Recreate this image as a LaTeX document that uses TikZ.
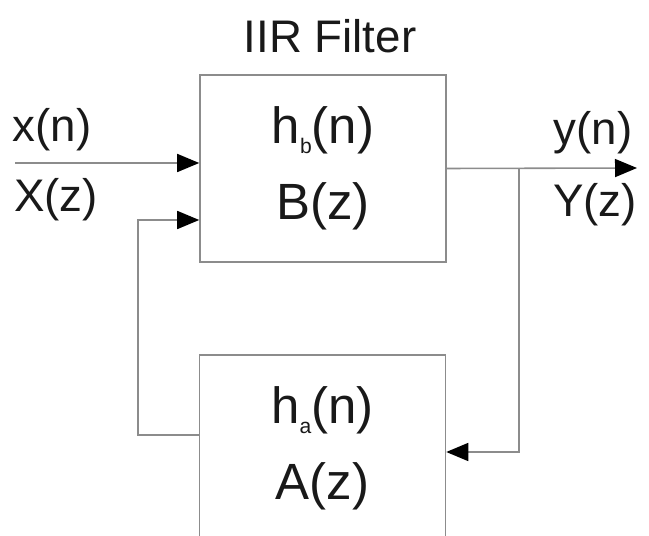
\documentclass[tikz,border=0pt]{standalone}
\usepackage{fontspec}
\setmainfont{Liberation Sans}
\usetikzlibrary{arrows.meta}
\newcommand{\lowsub}[1]{\raisebox{-5.5pt}{\fontsize{12}{12}\selectfont #1}}
\tikzset{
  filt/.style={draw=gray!90, line width=0.9pt, minimum width=4.92cm, minimum height=3.74cm,
    align=center, font=\fontsize{29}{43}\selectfont, text=black!90},
  sig/.style={draw=gray!90, line width=0.9pt},
  sigarr/.style={sig, -{Triangle[length=0.44cm,width=0.36cm,black]}},
  lbl/.style={font=\fontsize{26}{31}\selectfont, text=black!90}
}
\begin{document}
\begin{tikzpicture}[x=0.02cm,y=-0.02cm]
\clip (0,0) rectangle (649,536);
\useasboundingbox (0,0) rectangle (649,536);
\node[filt] (filtB) at (323,168.5) {h\lowsub{b}(n)\\B(z)};
\node[filt] (filtA) at (322.5,448.5) {h\lowsub{a}(n)\\A(z)};
\node[lbl] (title) at (330,36) {IIR Filter};
% input
\coordinate (in) at (15,163);
\draw[sigarr] (in) -- (in -| filtB.west);
\node[lbl] (xn) at (52,130) {x(n)};
\node[lbl] (Xz) at (56,200) {X(z)};
% output and branch
\coordinate (out) at (637,168);
\coordinate (br) at (519,168);
\coordinate (brd) at (519,452);
\draw[sigarr] (filtB.east) -- (out);
\draw[sigarr] (br) -- (brd) -- (brd -| filtA.east);
\node[lbl] (yn) at (593,133) {y(n)};
\node[lbl] (Yz) at (595,205) {Y(z)};
% feedback
\coordinate (fbl) at (138,435);
\coordinate (fbt) at (138,220);
\draw[sigarr] (fbl -| filtA.west) -- (fbl) -- (fbt) -- (fbt -| filtB.west);
\end{tikzpicture}
\end{document}
